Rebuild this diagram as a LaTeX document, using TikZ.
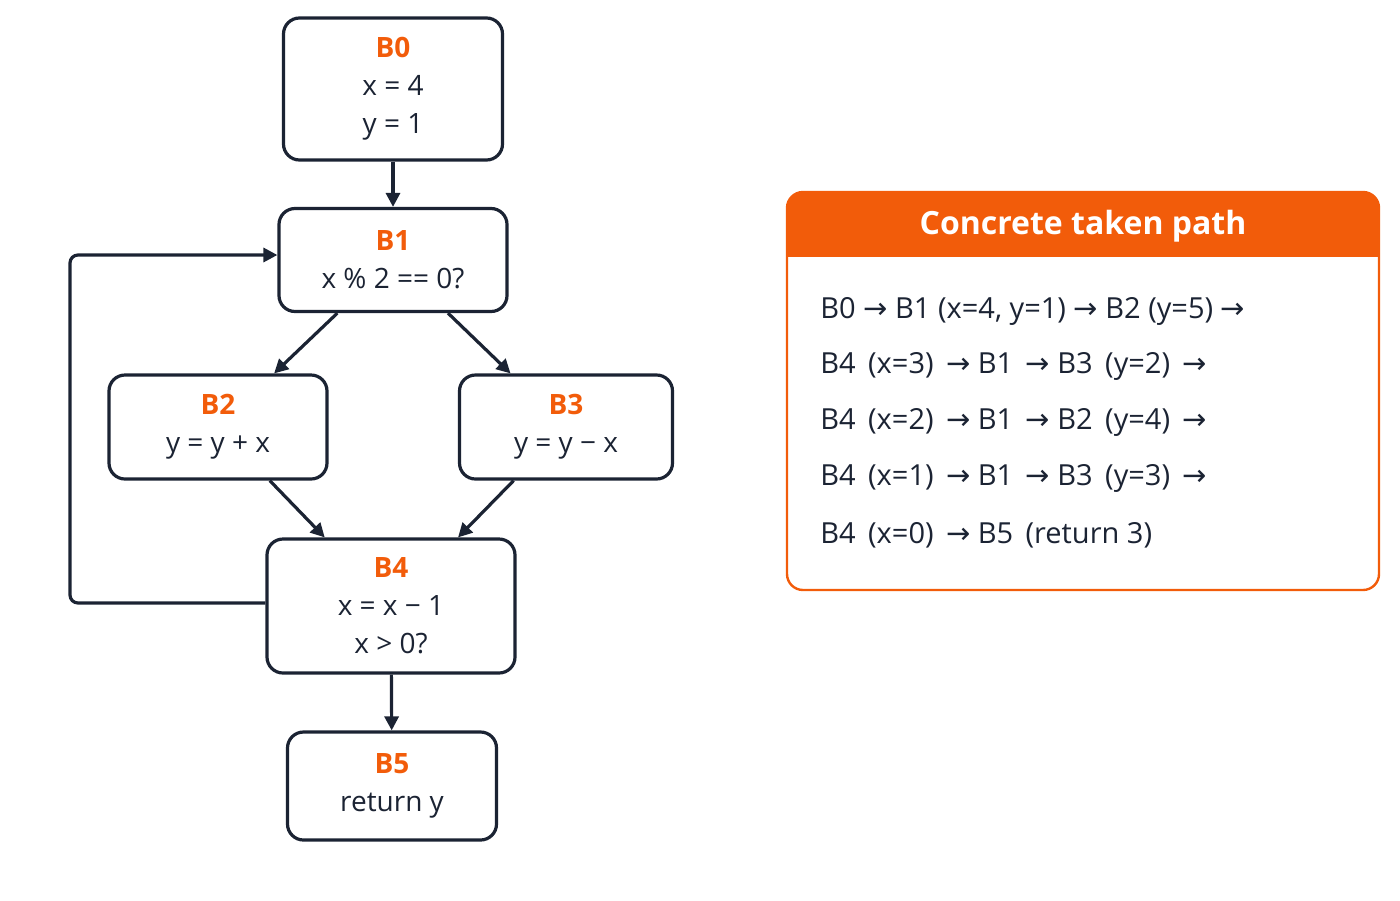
\documentclass[tikz,border=0pt]{standalone}
\usepackage{fontspec}
\setmainfont{Open Sans}
\newfontfamily\dvs{DejaVu Sans}
\usetikzlibrary{arrows.meta}
\definecolor{ink}{HTML}{1B2333}
\definecolor{org}{HTML}{F25C0A}
\newcommand{\ar}{{\dvs →}}
\begin{document}
\begin{tikzpicture}[x=0.5pt,y=-0.5pt,
  blk/.style={draw=ink,line width=1.6pt,rounded corners=8pt,minimum width=#1,align=center,inner sep=0pt,font=\fontsize{14}{19}\selectfont,text=ink},
  ttl/.style={text=org,font=\bfseries},
  edge/.style={draw=ink,line width=1.6pt,-{Triangle[length=7pt,width=7pt]}}]
\useasboundingbox (0,0) rectangle (1400,900);
\node[blk=109.5pt,minimum height=71pt] (B0) at (393,89) {{\color{org}\bfseries B0}\\x = 4\\y = 1};
\node[blk=114pt,minimum height=51.5pt] (B1) at (393,260) {{\color{org}\bfseries B1}\\x \% 2 == 0?};
\node[blk=109pt,minimum height=52pt] (B2) at (218,427) {{\color{org}\bfseries B2}\\y = y + x};
\node[blk=106.5pt,minimum height=52pt] (B3) at (566,427) {{\color{org}\bfseries B3}\\y = y − x};
\node[blk=124pt,minimum height=67pt] (B4) at (391,606) {{\color{org}\bfseries B4}\\x = x − 1\\x > 0?};
\node[blk=104.5pt,minimum height=54pt] (B5) at (392,786) {{\color{org}\bfseries B5}\\return y};
\draw[edge] (B0) -- (B1);
\draw[edge] (B1) -- (B2);
\draw[edge] (B1) -- (B3);
\draw[edge] (B2) -- (B4);
\draw[edge] (B3) -- (B4);
\draw[edge] (B4) -- (B5);
\coordinate (L1) at (70,603);
\coordinate (L2) at (70,255);
\draw[edge,rounded corners=4pt] (B4.west |- L1) -- (L1) -- (L2) -- (B1.west |- L2);
% panel
\node[draw=org,line width=1.2pt,rounded corners=8pt,minimum width=296pt,minimum height=199pt,inner sep=0pt] (P) at (1083,391) {};
\begin{scope}
\clip[rounded corners=8pt] (787,192) rectangle (1379,590);
\fill[org] (787,192) rectangle (1379,257);
\end{scope}
\node[text=white,font=\bfseries\fontsize{16}{19}\selectfont] (PT) at (1083,226) {Concrete taken path};
\begin{scope}[every node/.style={anchor=west,text=ink,font=\fontsize{14.5}{18}\selectfont,inner sep=0pt}]
\node (r1) at (820,311) {B0 \ar{} B1 (x=4, y=1) \ar{} B2 (y=5) \ar};
\node (r2) at (820,366) {B4 \,(x=3) \,\ar{} B1 \,\ar{} B3 \,(y=2) \,\ar};
\node (r3) at (820,422) {B4 \,(x=2) \,\ar{} B1 \,\ar{} B2 \,(y=4) \,\ar};
\node (r4) at (820,478) {B4 \,(x=1) \,\ar{} B1 \,\ar{} B3 \,(y=3) \,\ar};
\node (r5) at (820,535) {B4 \,(x=0) \,\ar{} B5 \,(return 3)};
\end{scope}
\end{tikzpicture}
\end{document}
